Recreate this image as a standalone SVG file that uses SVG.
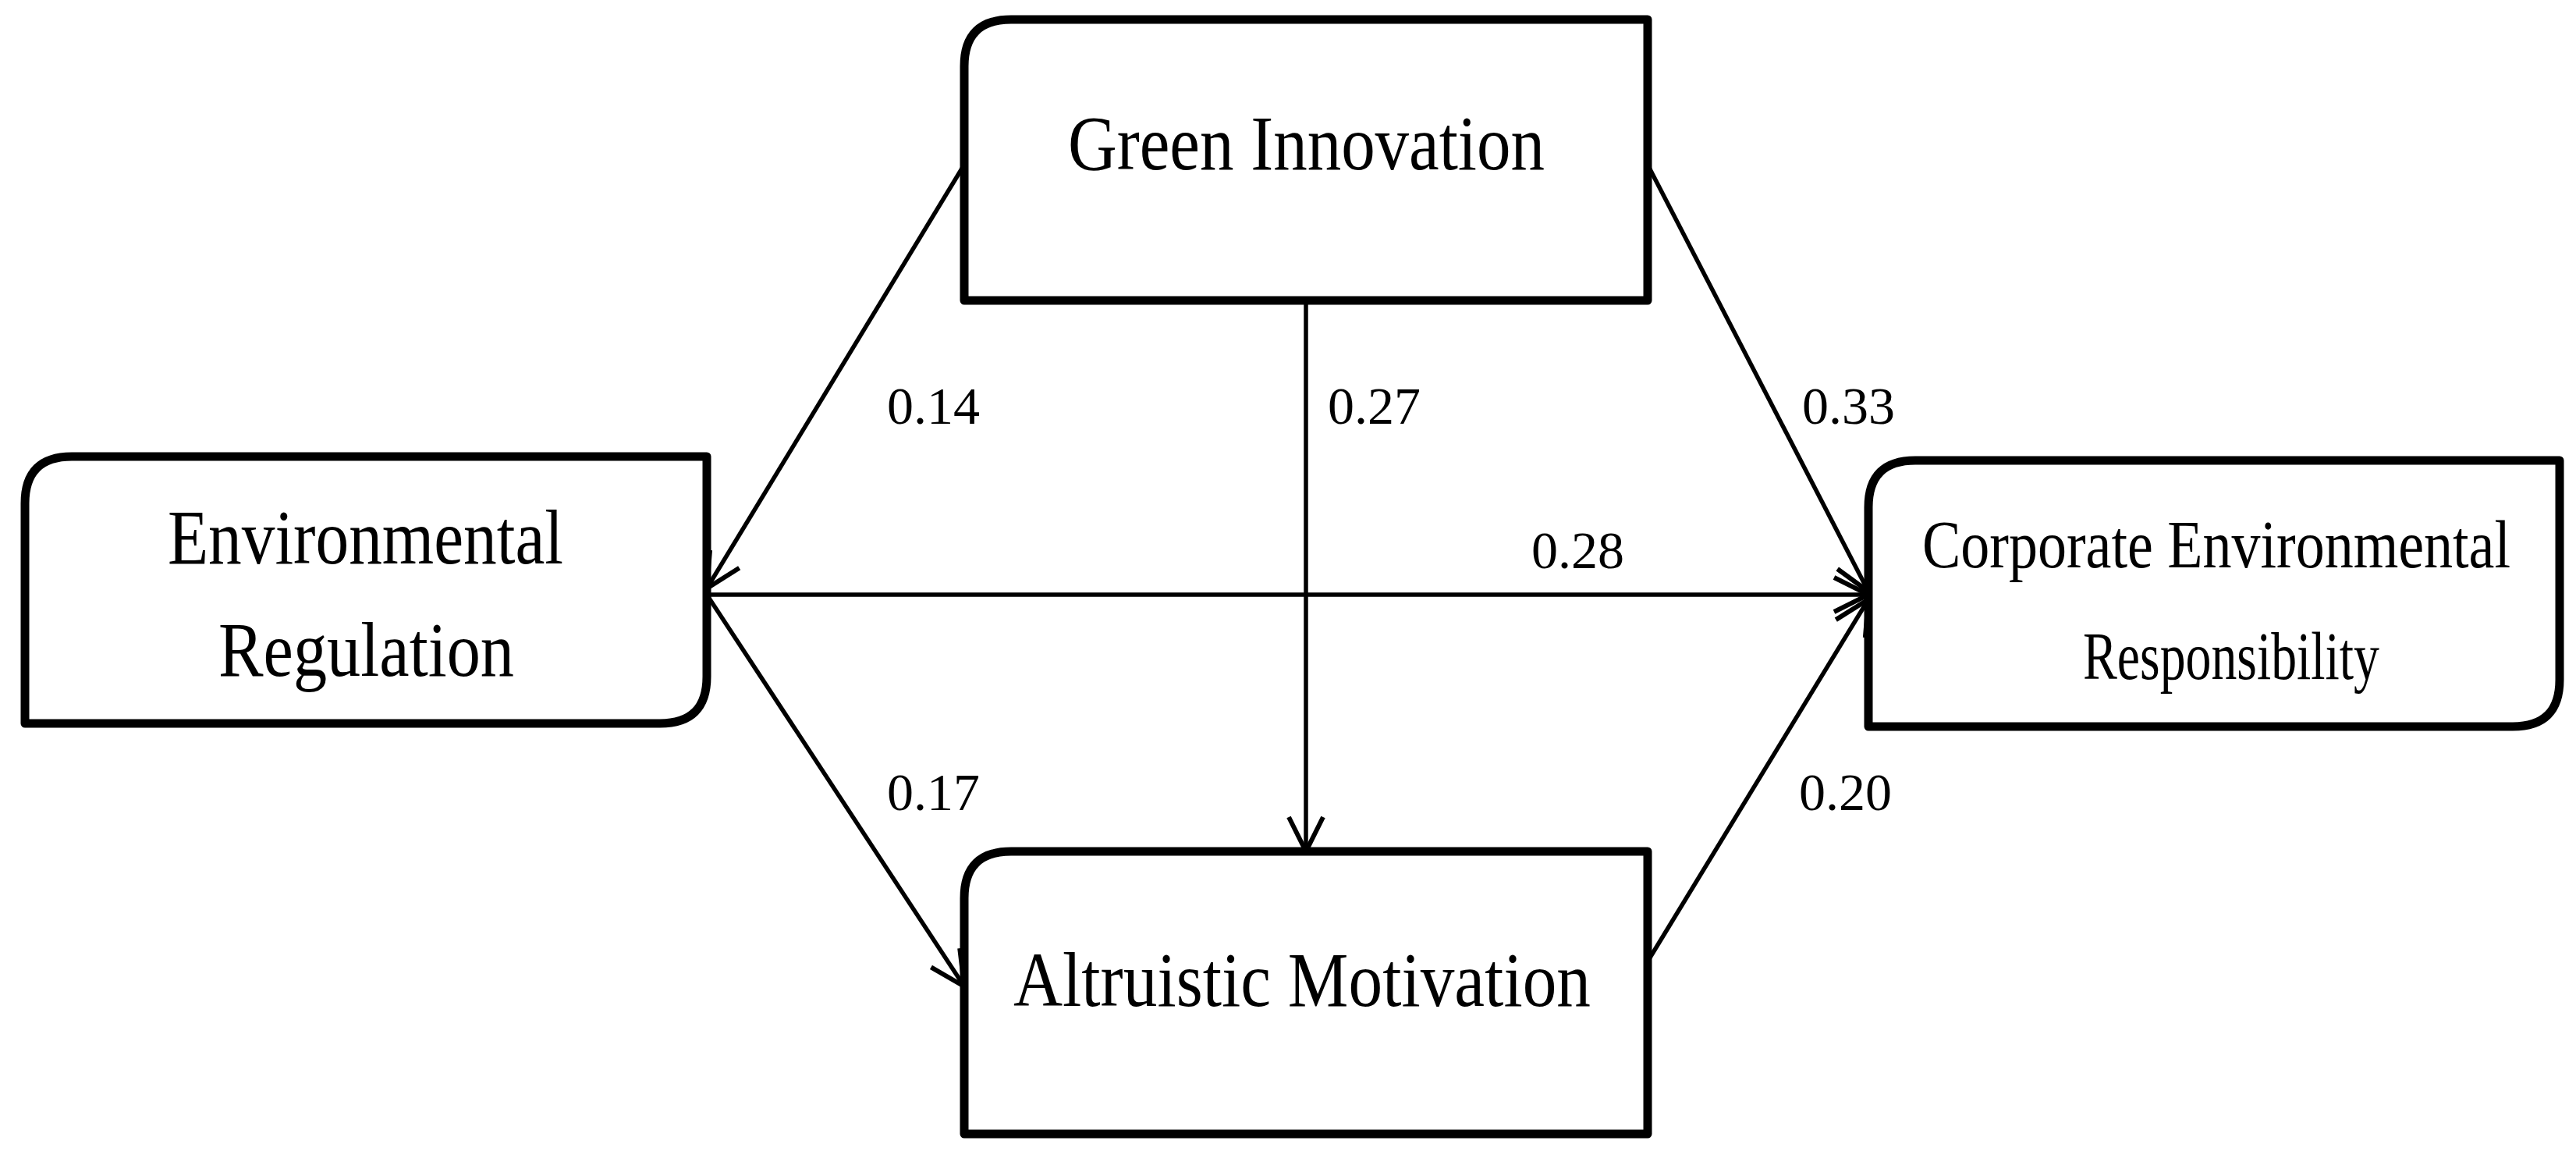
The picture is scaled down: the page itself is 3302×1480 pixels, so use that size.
<svg xmlns="http://www.w3.org/2000/svg" width="3302" height="1480" viewBox="0 0 3302 1480">
<style>
.box{fill:#fff;stroke:#000;stroke-width:11;stroke-linejoin:round}
.t{font-family:"Liberation Serif","Times New Roman",serif;fill:#000}
.n{font-size:100px}
.s{font-size:86px}
.l{font-size:68px}
.c{stroke:#000;stroke-width:5.5;fill:none}
</style>
<defs>
<marker id="a" markerUnits="userSpaceOnUse" markerWidth="60" markerHeight="60" viewBox="-50 -30 60 60" refX="0" refY="0" orient="auto">
<path d="M-44,-22 L0,0 L-44,22" fill="none" stroke="#000" stroke-width="6"/>
</marker>
</defs>
<rect width="3302" height="1480" fill="#fff"/>
<g id="connectors">
<line class="c" x1="1236" y1="211" x2="906" y2="754" marker-end="url(#a)"/>
<line class="c" x1="2112" y1="211" x2="2395" y2="758" marker-end="url(#a)"/>
<line class="c" x1="1674" y1="385" x2="1674" y2="1091" marker-end="url(#a)"/>
<line class="c" x1="906" y1="762" x2="2395" y2="762" marker-end="url(#a)"/>
<line class="c" x1="906" y1="762" x2="1236" y2="1264" marker-end="url(#a)"/>
<line class="c" x1="2112" y1="1232" x2="2395" y2="768" marker-end="url(#a)"/>
<text class="t l" x="1137" y="543">0.14</text>
<text class="t l" x="1702" y="543">0.27</text>
<text class="t l" x="2310" y="543">0.33</text>
<text class="t l" x="1963" y="728">0.28</text>
<text class="t l" x="1137" y="1038">0.17</text>
<text class="t l" x="2306" y="1038">0.20</text>
</g>
<g id="green-innovation">
<path class="box" d="M1296,25 H2112 V385 H1236 V85 Q1236,25 1296,25 Z"/>
<text class="t n" x="1369" y="217" textLength="611" lengthAdjust="spacingAndGlyphs">Green Innovation</text>
</g>
<g id="environmental-regulation">
<path class="box" d="M92,585 H906 V867 Q906,927 846,927 H32 V645 Q32,585 92,585 Z"/>
<text class="t n" x="215" y="722" textLength="507" lengthAdjust="spacingAndGlyphs">Environmental</text>
<text class="t n" x="280" y="866" textLength="379" lengthAdjust="spacingAndGlyphs">Regulation</text>
</g>
<g id="corporate-environmental-responsibility">
<path class="box" d="M2455,590 H3281 V871 Q3281,931 3221,931 H2395 V650 Q2395,590 2455,590 Z"/>
<text class="t s" x="2464" y="727" textLength="754" lengthAdjust="spacingAndGlyphs">Corporate Environmental</text>
<text class="t s" x="2670" y="870" textLength="380" lengthAdjust="spacingAndGlyphs">Responsibility</text>
</g>
<g id="altruistic-motivation">
<path class="box" d="M1296,1091 H2112 V1453 H1236 V1151 Q1236,1091 1296,1091 Z"/>
<text class="t n" x="1299" y="1289" textLength="740" lengthAdjust="spacingAndGlyphs">Altruistic Motivation</text>
</g>
</svg>
